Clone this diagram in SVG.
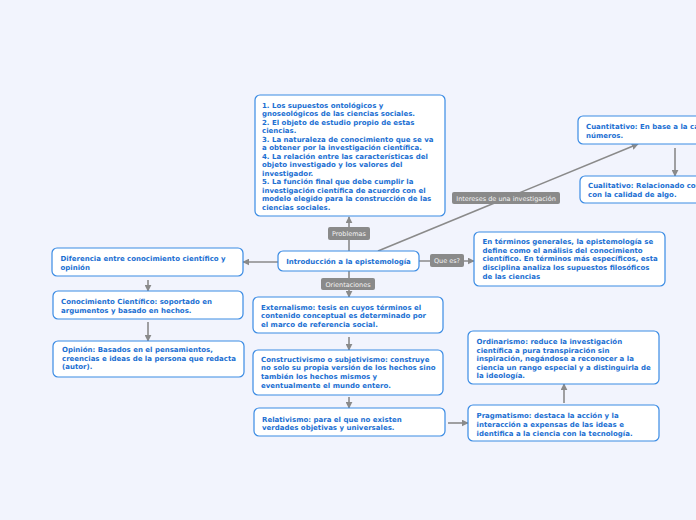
<svg xmlns="http://www.w3.org/2000/svg" width="696" height="520" viewBox="0 0 696 520">
<defs>
<marker id="ah" viewBox="0 0 10 10" refX="9" refY="5" markerWidth="7" markerHeight="7" markerUnits="userSpaceOnUse" orient="auto">
<path d="M0,0 L10,5 L0,10 Z" fill="#8a8a8a"/>
</marker>
</defs>
<style>
.bg{fill:#f2f4fd}
.box{fill:#ffffff;stroke:#3a8be4;stroke-width:1.2}
.t{font-family:"DejaVu Sans",Verdana,sans-serif;font-size:7px;font-weight:bold;fill:#1b6fd2}
.c{stroke:#8a8a8a;stroke-width:1.6;fill:none}
.lb{fill:#8a8a8a}
.lt{font-family:"DejaVu Sans",Verdana,sans-serif;font-size:6.5px;fill:#f4f4f4;text-anchor:middle}
</style>
<rect class="bg" x="0" y="0" width="696" height="520"/>
<g id="connectors">
<line class="c" x1="349" y1="251" x2="349" y2="217" marker-end="url(#ah)"/>
<line class="c" x1="378" y1="251" x2="638" y2="144" marker-end="url(#ah)"/>
<line class="c" x1="419" y1="261" x2="474" y2="261" marker-end="url(#ah)"/>
<line class="c" x1="349" y1="271" x2="349" y2="297" marker-end="url(#ah)"/>
<line class="c" x1="278" y1="262" x2="243" y2="262" marker-end="url(#ah)"/>
<line class="c" x1="148" y1="280" x2="148" y2="291" marker-end="url(#ah)"/>
<line class="c" x1="148" y1="322" x2="148" y2="341" marker-end="url(#ah)"/>
<line class="c" x1="349" y1="337" x2="349" y2="350" marker-end="url(#ah)"/>
<line class="c" x1="349" y1="397" x2="349" y2="408" marker-end="url(#ah)"/>
<line class="c" x1="448" y1="423" x2="468" y2="423" marker-end="url(#ah)"/>
<line class="c" x1="564" y1="403" x2="564" y2="384" marker-end="url(#ah)"/>
<line class="c" x1="675" y1="148" x2="675" y2="176" marker-end="url(#ah)"/>
<rect class="lb" x="328" y="227" width="42" height="13" rx="2"/>
<text class="lt" x="349" y="236">Problemas</text>
<rect class="lb" x="452" y="192" width="108" height="12" rx="2"/>
<text class="lt" x="506" y="200.5">Intereses de una investigación</text>
<rect class="lb" x="430" y="254" width="34" height="13" rx="2"/>
<text class="lt" x="447" y="263">Que es?</text>
<rect class="lb" x="321" y="278" width="54" height="12" rx="2"/>
<text class="lt" x="348" y="286.5">Orientaciones</text>
</g>
<g id="problemas">
<rect class="box" x="255" y="95" width="190" height="121" rx="5"/>
<text class="t"><tspan x="262" y="107.5">1. Los supuestos ontológicos y</tspan><tspan x="262" y="116">gnoseológicos de las ciencias sociales.</tspan><tspan x="262" y="124.5">2. El objeto de estudio propio de estas</tspan><tspan x="262" y="133">ciencias.</tspan><tspan x="262" y="141.5">3. La naturaleza de conocimiento que se va</tspan><tspan x="262" y="150">a obtener por la investigación científica.</tspan><tspan x="262" y="158.5">4. La relación entre las características del</tspan><tspan x="262" y="167">objeto investigado y los valores del</tspan><tspan x="262" y="175.5">investigador.</tspan><tspan x="262" y="184">5. La función final que debe cumplir la</tspan><tspan x="262" y="192.5">investigación científica de acuerdo con el</tspan><tspan x="262" y="201">modelo elegido para la construcción de las</tspan><tspan x="262" y="209.5">ciencias sociales.</tspan></text>
</g>
<g id="central">
<rect class="box" x="278" y="251" width="141" height="20" rx="5"/>
<text class="t" x="348.5" y="264" text-anchor="middle">Introducción a la epistemología</text>
</g>
<g id="definicion">
<rect class="box" x="474" y="232" width="191" height="54" rx="5"/>
<text class="t"><tspan x="482.5" y="244.2">En términos generales, la epistemología se</tspan><tspan x="482.5" y="252.8">define como el análisis del conocimiento</tspan><tspan x="482.5" y="261.2">científico. En términos más específicos, esta</tspan><tspan x="482.5" y="269.8">disciplina analiza los supuestos filosóficos</tspan><tspan x="482.5" y="278.5">de las ciencias</tspan></text>
</g>
<g id="cuantitativo">
<rect class="box" x="578" y="116" width="130" height="28" rx="5"/>
<text class="t"><tspan x="586" y="129.2">Cuantitativo: En base a la cantidad o</tspan><tspan x="586" y="137.7">números.</tspan></text>
</g>
<g id="cualitativo">
<rect class="box" x="580" y="176" width="130" height="27" rx="5"/>
<text class="t"><tspan x="588" y="187.5">Cualitativo: Relacionado con lo que tiene que ver</tspan><tspan x="588" y="196.5">con la calidad de algo.</tspan></text>
</g>
<g id="diferencia">
<rect class="box" x="52" y="248" width="191" height="28" rx="5"/>
<text class="t"><tspan x="60.5" y="260.8">Diferencia entre conocimiento científico y</tspan><tspan x="60.5" y="269.8">opinión</tspan></text>
</g>
<g id="conocimiento">
<rect class="box" x="53" y="291" width="190" height="28" rx="5"/>
<text class="t"><tspan x="61" y="304.2">Conocimiento Científico: soportado en</tspan><tspan x="61" y="312.5">argumentos y basado en hechos.</tspan></text>
</g>
<g id="opinion">
<rect class="box" x="53" y="341" width="191" height="36" rx="5"/>
<text class="t"><tspan x="62" y="351.8">Opinión: Basados en el pensamientos,</tspan><tspan x="62" y="360.5">creencias e ideas de la persona que redacta</tspan><tspan x="62" y="369.2">(autor).</tspan></text>
</g>
<g id="externalismo">
<rect class="box" x="253" y="297" width="190" height="36" rx="5"/>
<text class="t"><tspan x="261" y="309.8">Externalismo: tesis en cuyos términos el</tspan><tspan x="261" y="318.2">contenido conceptual  es determinado por</tspan><tspan x="261" y="326.8">el marco de referencia social.</tspan></text>
</g>
<g id="constructivismo">
<rect class="box" x="253" y="350" width="190" height="45" rx="5"/>
<text class="t"><tspan x="261" y="361.8">Constructivismo o subjetivismo: construye</tspan><tspan x="261" y="370.2">no solo su propia versión de los hechos sino</tspan><tspan x="261" y="378.8">también los hechos mismos y</tspan><tspan x="261" y="387.5">eventualmente el mundo entero.</tspan></text>
</g>
<g id="relativismo">
<rect class="box" x="254" y="408" width="191" height="28" rx="5"/>
<text class="t"><tspan x="262" y="421.5">Relativismo: para el que no existen</tspan><tspan x="262" y="430.2">verdades objetivas y universales.</tspan></text>
</g>
<g id="pragmatismo">
<rect class="box" x="468" y="405" width="191" height="36" rx="5"/>
<text class="t"><tspan x="476.5" y="418.2">Pragmatismo: destaca la acción y la</tspan><tspan x="476.5" y="426.8">interacción a expensas de las ideas e</tspan><tspan x="476.5" y="435.5">identifica a la ciencia con la tecnología.</tspan></text>
</g>
<g id="ordinarismo">
<rect class="box" x="468" y="331" width="191" height="53" rx="5"/>
<text class="t"><tspan x="476.5" y="344.2">Ordinarismo: reduce la investigación</tspan><tspan x="476.5" y="352.5">científica a pura transpiración sin</tspan><tspan x="476.5" y="361.2">inspiración, negándose a reconocer a la</tspan><tspan x="476.5" y="369.5">ciencia un rango especial y a distinguirla de</tspan><tspan x="476.5" y="378.2">la ideología.</tspan></text>
</g>
</svg>
